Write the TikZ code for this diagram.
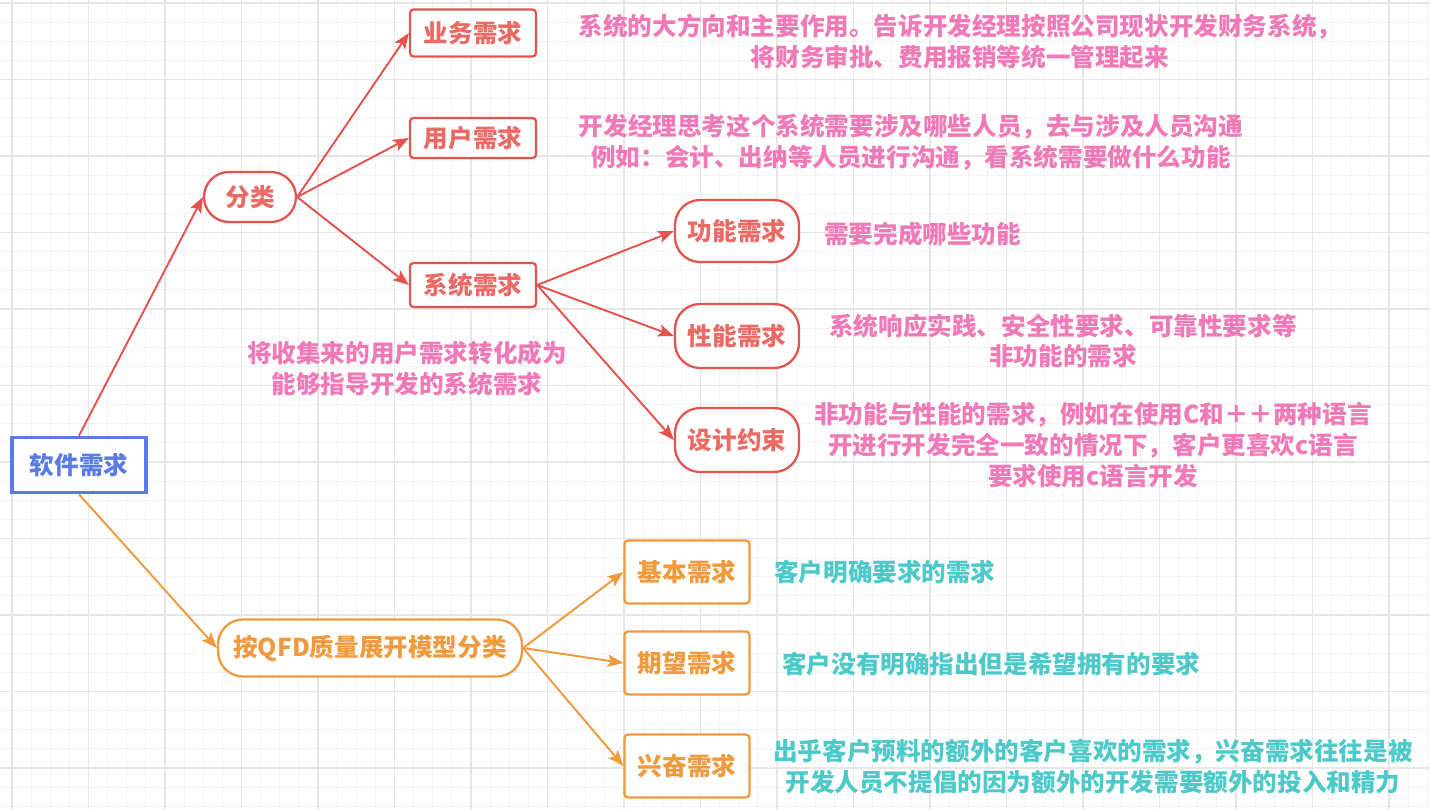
\documentclass[tikz,border=0pt]{standalone}
\usepackage{fontspec}
\setmainfont{Noto Sans CJK SC}
\usetikzlibrary{arrows.meta}

\definecolor{xqred}{HTML}{E5534E}
\definecolor{xqredtext}{HTML}{EA6B66}
\definecolor{xqpink}{HTML}{F07AB7}
\definecolor{xqteal}{HTML}{4DC9C9}
\definecolor{xqorange}{HTML}{F09A3E}
\definecolor{xqblue}{HTML}{5A7BE6}
\definecolor{gridminor}{HTML}{F3F3F3}
\definecolor{gridmajor}{HTML}{E6E6E6}

\tikzset{
  rootbox/.style={draw=xqblue, line width=2pt, fill=white, text=xqblue,
    minimum width=2.68cm, minimum height=1.1cm},
  redbox/.style={draw=xqred, line width=1.3pt, fill=white, text=xqredtext,
    rounded corners=2pt, minimum width=2.52cm},
  redpill/.style={draw=xqred, line width=1.3pt, fill=white, text=xqredtext,
    rounded corners=0.5cm},
  orangebox/.style={draw=xqorange, line width=1.3pt, fill=white, text=xqorange,
    rounded corners=2pt, minimum width=2.5cm, minimum height=1.26cm},
  pinknote/.style={text=xqpink, align=center},
  tealnote/.style={text=xqteal, align=center},
  redline/.style={->, draw=xqred, line width=1.1pt},
  orangeline/.style={->, draw=xqorange, line width=1.1pt},
}

\begin{document}
\begin{tikzpicture}[x=0.02cm, y=-0.02cm, >={Stealth[length=9pt,width=7pt,inset=2pt]},
    font=\bfseries\fontsize{14}{17.6}\selectfont]
  \useasboundingbox (0,0) rectangle (1430,809);
  \fill[white] (0,0) rectangle (1430,809);

  % 背景网格
  \foreach \i in {0,...,74} \draw[gridminor, line width=0.6pt] ({12+19.125*\i},0) -- ++(0,809);
  \foreach \i in {0,...,42} \draw[gridminor, line width=0.6pt] (0,{3+19.125*\i}) -- ++(1430,0);
  \foreach \i in {0,...,18} \draw[gridmajor, line width=0.7pt] ({12+76.5*\i},0) -- ++(0,809);
  \foreach \i in {0,...,10} \draw[gridmajor, line width=0.7pt] (0,{3+76.5*\i}) -- ++(1430,0);

  % 根节点
  \node[rootbox] (rj) at (79,465) {软件需求};

  % 分类
  \node[redpill, minimum width=1.84cm, minimum height=1cm] (fl) at (250,197) {分类};
  \node[redbox, minimum height=0.94cm] (yw) at (473,33) {业务需求};
  \node[redbox, minimum height=0.8cm] (yh) at (473,138) {用户需求};
  \node[redbox, minimum height=0.88cm] (xt) at (473,285) {系统需求};
  \node[redpill, minimum width=2.48cm, minimum height=1.24cm] (gn) at (737,231) {功能需求};
  \node[redpill, minimum width=2.48cm, minimum height=1.28cm] (xn) at (737,336) {性能需求};
  \node[redpill, minimum width=2.48cm, minimum height=1.28cm] (sj) at (737,440) {设计约束};

  % QFD
  \node[redpill, draw=xqorange, text=xqorange, minimum width=6.08cm, minimum height=1.14cm] (qfd) at (370,648) {按QFD质量展开模型分类};
  \node[orangebox] (jb) at (687,572) {基本需求};
  \node[orangebox] (qw) at (687,663) {期望需求};
  \node[orangebox] (xf) at (687,766) {兴奋需求};

  % 连线
  \draw[redline] (rj.north) -- (fl.west);
  \draw[orangeline] (rj.south) -- (qfd.west);
  \draw[redline] (fl.east) -- (yw.west);
  \draw[redline] (fl.east) -- (yh.west);
  \draw[redline] (fl.east) -- (xt.west);
  \draw[redline] (xt.east) -- (gn.west);
  \draw[redline] (xt.east) -- (xn.west);
  \draw[redline] (xt.east) -- (sj.west);
  \draw[orangeline] (qfd.east) -- (jb.west);
  \draw[orangeline] (qfd.east) -- (qw.west);
  \draw[orangeline] (qfd.east) -- (xf.west);

  % 说明文字
  \node[pinknote] (ywtxt) at (960,42) {系统的大方向和主要作用。告诉开发经理按照公司现状开发财务系统，\\将财务审批、费用报销等统一管理起来};
  \node[pinknote] (yhtxt) at (911,142) {开发经理思考这个系统需要涉及哪些人员，去与涉及人员沟通\\例如：会计、出纳等人员进行沟通，看系统需要做什么功能};
  \node[pinknote] (xttxt) at (407,369) {将收集来的用户需求转化成为\\能够指导开发的系统需求};
  \node[pinknote, anchor=west] (gntxt) at (818,234) {需要完成哪些功能};
  \node[pinknote] (xntxt) at (1063,341) {系统响应实践、安全性要求、可靠性要求等\\非功能的需求};
  \node[pinknote] (sjtxt) at (1093,445) {非功能与性能的需求，例如在使用C和＋＋两种语言\\开进行开发完全一致的情况下，客户更喜欢c语言\\要求使用c语言开发};
  \node[tealnote, anchor=west] (jbtxt) at (768,572) {客户明确要求的需求};
  \node[tealnote, anchor=west] (qwtxt) at (776,664) {客户没有明确指出但是希望拥有的要求};
  \node[tealnote] (xftxt) at (1093,767) {出乎客户预料的额外的客户喜欢的需求，兴奋需求往往是被\\开发人员不提倡的因为额外的开发需要额外的投入和精力};
\end{tikzpicture}
\end{document}
